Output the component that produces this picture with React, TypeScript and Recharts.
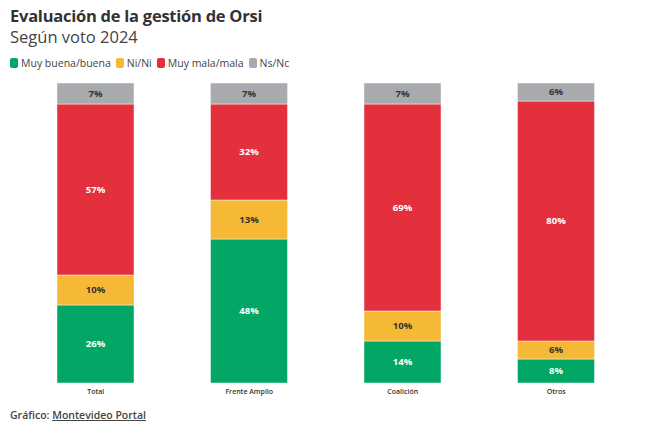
import { Bar, BarChart, LabelList, XAxis, YAxis } from "recharts";

const categories = ["Total", "Frente Amplio", "Coalición", "Otros"];
const buena = [26, 48, 14, 8];
const nini = [10, 13, 10, 6];
const mala = [57, 32, 69, 80];
const nsnc = [7, 7, 7, 6];

const series = [
  { key: "buena", name: "Muy buena/buena", color: "#02A766", text: "#ffffff" },
  { key: "nini", name: "Ni/Ni", color: "#F5B935", text: "#333333" },
  { key: "mala", name: "Muy mala/mala", color: "#E3303C", text: "#ffffff" },
  { key: "nsnc", name: "Ns/Nc", color: "#A8AAAD", text: "#333333" },
];

const data = categories.map((name, i) => ({
  name,
  buena: buena[i],
  nini: nini[i],
  mala: mala[i],
  nsnc: nsnc[i],
}));

const font = "'Open Sans', 'Noto Sans', sans-serif";

const App = () => {
  return (
    <div
      style={{
        position: "fixed",
        left: 0,
        top: 0,
        width: 650,
        height: 428,
        background: "#fff",
        fontFamily: font,
      }}
    >
      <div
        style={{
          position: "absolute",
          left: 10,
          top: 6,
          fontSize: 16.5,
          lineHeight: "20px",
          fontWeight: 700,
          color: "#333",
          letterSpacing: -0.25,
        }}
      >
        Evaluación de la gestión de Orsi
      </div>
      <div
        style={{
          position: "absolute",
          left: 10,
          top: 27,
          fontSize: 16.5,
          lineHeight: "20px",
          color: "#444",
        }}
      >
        Según voto 2024
      </div>
      <div
        style={{
          position: "absolute",
          left: 10,
          top: 56,
          display: "flex",
          fontSize: 10.5,
          color: "#444",
        }}
      >
        {series.map((s) => (
          <div key={s.key} style={{ display: "flex", alignItems: "center", marginRight: 5 }}>
            <span
              style={{
                width: 8,
                height: 10,
                borderRadius: 2,
                background: s.color,
                marginRight: 3,
                display: "inline-block",
              }}
            />
            {s.name}
          </div>
        ))}
      </div>
      <div style={{ position: "absolute", left: 0, top: 0 }}>
        <BarChart
          width={650}
          height={428}
          data={data}
          margin={{ top: 83, right: 17, bottom: 30, left: 19 }}
        >
          <XAxis
            dataKey="name"
            axisLine={false}
            tickLine={false}
            tick={{ fontSize: 7, fill: "#333", fontWeight: 600, fontFamily: font }}
            tickMargin={0}
            height={15}
            interval={0}
          />
          <YAxis hide domain={[0, 100]} />
          {series.map((s) => (
            <Bar
              key={s.key}
              dataKey={s.key}
              stackId="a"
              fill={s.color}
              stroke="#f4f4f4"
              strokeWidth={0.5}
              barSize={77}
              isAnimationActive={false}
            >
              <LabelList
                dataKey={s.key}
                position="center"
                formatter={(v: number) => `${v}%`}
                style={{ fontSize: 9.5, fontWeight: 700, fill: s.text, fontFamily: font }}
              />
            </Bar>
          ))}
        </BarChart>
      </div>
      <div
        style={{
          position: "absolute",
          left: 10,
          top: 408,
          fontSize: 10.5,
          fontWeight: 600,
          color: "#444",
        }}
      >
        Gráfico: <span style={{ textDecoration: "underline" }}>Montevideo Portal</span>
      </div>
    </div>
  );
};

export default App;
